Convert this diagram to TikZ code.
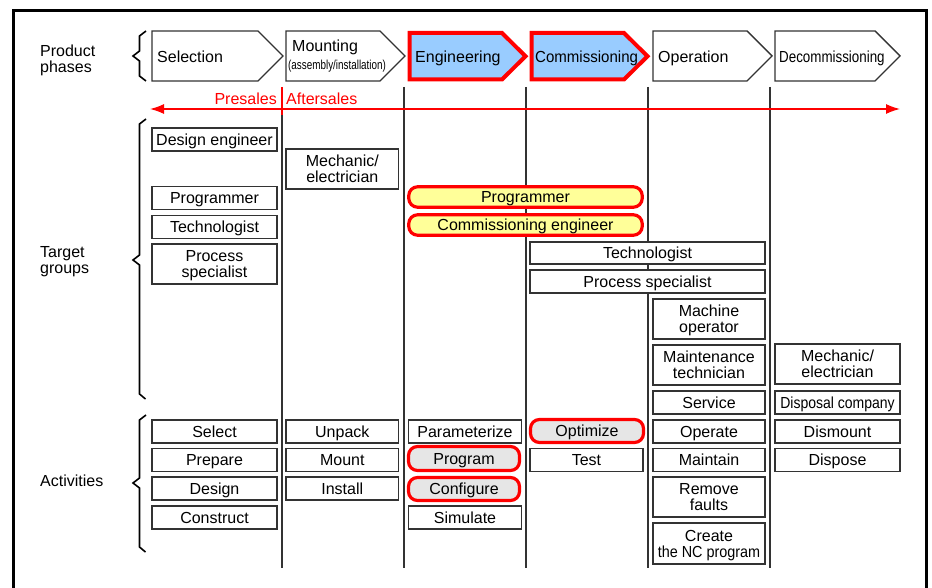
\documentclass[tikz,border=0pt]{standalone}
\usepackage{fontspec}
\usepackage{graphicx}
\setmainfont{Liberation Sans}
\usetikzlibrary{arrows.meta}
\definecolor{bd}{HTML}{333333}
\definecolor{phblue}{HTML}{99CCFF}
\definecolor{yel}{HTML}{FFFF99}
\definecolor{gry}{HTML}{E6E6E6}
\definecolor{rd}{HTML}{FF0000}
\begin{document}
\begin{tikzpicture}[x=1pt,y=-1pt,
  txt/.style={font=\fontsize{16}{16}\selectfont, inner sep=0pt, align=center},
  one/.style={text height=11.5pt, text depth=0pt},
  two/.style={text height=27.5pt, text depth=0pt},
  box/.style={txt, draw=bd, line width=1.4pt, fill=white},
  hlbox/.style={txt, one, draw=rd, line width=3.2pt, rounded corners=9pt},
  phase/.style={draw=bd, line width=1.4pt, fill=white, line join=miter},
  hlphase/.style={draw=rd, line width=4pt, fill=phblue, line join=miter},
  col/.style={draw=bd, line width=1.4pt},
  brace/.style={draw=black, line width=1.6pt},
  lbl/.style={txt, align=left, anchor=west},
  c1/.style={box, minimum width=125pt},
  c2/.style={box, minimum width=112.7pt},
  c3/.style={box, minimum width=113pt},
  c5/.style={box, minimum width=112.3pt},
  c6/.style={box, minimum width=125pt},
  h1/.style={one, minimum height=23pt},
  h2/.style={two, minimum height=40pt},
]
\useasboundingbox (0,0) rectangle (932,588);
% frame
\draw[line width=3pt] (13,600) -- (13,11) -- (926,11) -- (926,600);

% column lines
\draw[col] (282,115) -- (282,568);
\draw[rd, line width=1.4pt] (282,87) -- (282,115);
\draw[col] (404,87) -- (404,568);
\draw[col] (526,87) -- (526,568);
\draw[col] (648,87) -- (648,568);
\draw[col] (770,87) -- (770,568);

% phases
\draw[phase] (152,31) -- (258,31) -- (283,56) -- (258,81) -- (152,81) -- cycle;
\draw[phase] (286,31) -- (380,31) -- (405,56) -- (380,81) -- (286,81) -- cycle;
\draw[hlphase] (409.5,33) -- (502,33) -- (525.5,56.25) -- (502,79.5) -- (409.5,79.5) -- cycle;
\draw[hlphase] (531.5,33) -- (624,33) -- (647.5,56.25) -- (624,79.5) -- (531.5,79.5) -- cycle;
\draw[phase] (653,31) -- (747,31) -- (772,56) -- (747,81) -- (653,81) -- cycle;
\draw[phase] (775,31) -- (875,31) -- (900,56) -- (875,81) -- (775,81) -- cycle;

\node[txt, one, anchor=west] (pSel) at (157,57) {Selection};
\node[txt, one, anchor=west] (pMnt) at (292,45.5) {Mounting};
\node[txt, anchor=west] (pMnt2) at (288,66) {\scalebox{0.76}[1]{\fontsize{13}{14}\selectfont (assembly/installation)}};
\node[txt, one, anchor=west] (pEng) at (415,57) {Engineering};
\node[txt, one, anchor=west] (pCom) at (535,57) {\scalebox{0.94}[1]{Commissioning}};
\node[txt, one, anchor=west] (pOpe) at (658,57) {Operation};
\node[txt, one, anchor=west] (pDec) at (779,57) {\scalebox{0.835}[1]{Decommissioning}};

% row labels
\node[lbl, two] (lPh) at (40,58.5) {Product\\phases};
\node[lbl, two] (lTg) at (40,259.5) {Target\\groups};
\node[lbl, one] (lAc) at (40,481) {Activities};

% braces
\draw[brace] (146,31) -- (139.5,36) -- (139.5,51) -- (133,56) -- (139.5,61) -- (139.5,76) -- (146,81);
\draw[brace] (146,119) -- (139.5,124) -- (139.5,255) -- (133,260) -- (139.5,265) -- (139.5,394) -- (145.5,399);
\draw[brace] (146,415) -- (139.5,420) -- (139.5,478) -- (133,483) -- (139.5,488) -- (139.5,547) -- (145.5,552);

% presales / aftersales
\coordinate (arL) at (150,109);
\coordinate (arR) at (900,109);
\draw[rd, line width=1.3pt, {Latex[length=14pt,width=10pt]}-{Latex[length=14pt,width=10pt]}] (arL) -- (arR);
\node[txt, text=rd, anchor=base east] (pre) at (277,105) {Presales};
\node[txt, text=rd, anchor=base west] (aft) at (286,105) {Aftersales};

% target groups column 1
\node[c1,h1] (tDes) at (214.5,139.5) {Design engineer};
\node[c1,h1] (tPrg) at (214.5,198) {Programmer};
\node[c1,h1] (tTec) at (214.5,227) {Technologist};
\node[c1,h2] (tPro) at (214.5,264) {Process\\specialist};
% column 2
\node[c2,h2] (tMec) at (342.3,169) {Mechanic/\\electrician};
% highlighted
\node[hlbox, fill=yel, minimum width=233.5pt, minimum height=20.5pt] (tPrgH) at (525.5,197) {Programmer};
\node[hlbox, fill=yel, minimum width=233.5pt, minimum height=20.5pt] (tComH) at (525.5,225) {Commissioning engineer};
% wide
\node[box, minimum width=235pt, h1, minimum height=22pt] (tTecW) at (647.5,253) {Technologist};
\node[box, minimum width=235pt, h1] (tProW) at (647.5,281.5) {Process specialist};
% column 5
\node[c5,h2] (tMac) at (709,319) {Machine\\operator};
\node[c5,h2] (tMai) at (709,365) {Maintenance\\technician};
\node[c5,h1] (tSer) at (709,402.5) {Service};
% column 6
\node[c6,h2] (tMec6) at (837.5,364) {Mechanic/\\electrician};
\node[c6,h1] (tDis) at (837.5,402.5) {\scalebox{0.875}[1]{Disposal company}};

% activities column 1
\node[c1,h1] (aSel) at (214.5,431.5) {Select};
\node[c1,h1] (aPre) at (214.5,460) {Prepare};
\node[c1,h1] (aDes) at (214.5,488.5) {Design};
\node[c1,h1] (aCon) at (214.5,517.5) {Construct};
% column 2
\node[c2,h1] (aUnp) at (342.3,431.5) {Unpack};
\node[c2,h1] (aMou) at (342.3,460) {Mount};
\node[c2,h1] (aIns) at (342.3,488.5) {Install};
% column 3
\node[c3,h1] (aPar) at (465,431.5) {Parameterize};
\node[hlbox, fill=gry, minimum width=111pt, minimum height=24pt] (aPrg) at (464,458.5) {Program};
\node[hlbox, fill=gry, minimum width=111pt, minimum height=23pt] (aCfg) at (464,489) {Configure};
\node[c3,h1] (aSim) at (465,517.5) {Simulate};
% column 4
\node[hlbox, fill=gry, minimum width=113pt, minimum height=23pt] (aOpt) at (587,431) {Optimize};
\node[box, minimum width=113pt, h1] (aTes) at (586.5,460) {Test};
% column 5
\node[c5,h1] (aOpe) at (709,431.5) {Operate};
\node[c5,h1] (aMai) at (709,460) {Maintain};
\node[c5,h2] (aRem) at (709,497) {Remove\\faults};
\node[c5,h2, minimum height=41pt] (aCre) at (709,543.5) {Create\\\scalebox{0.9}[1]{the NC program}};
% column 6
\node[c6,h1] (aDsm) at (837.5,431.5) {Dismount};
\node[c6,h1] (aDsp) at (837.5,460) {Dispose};
\end{tikzpicture}
\end{document}
